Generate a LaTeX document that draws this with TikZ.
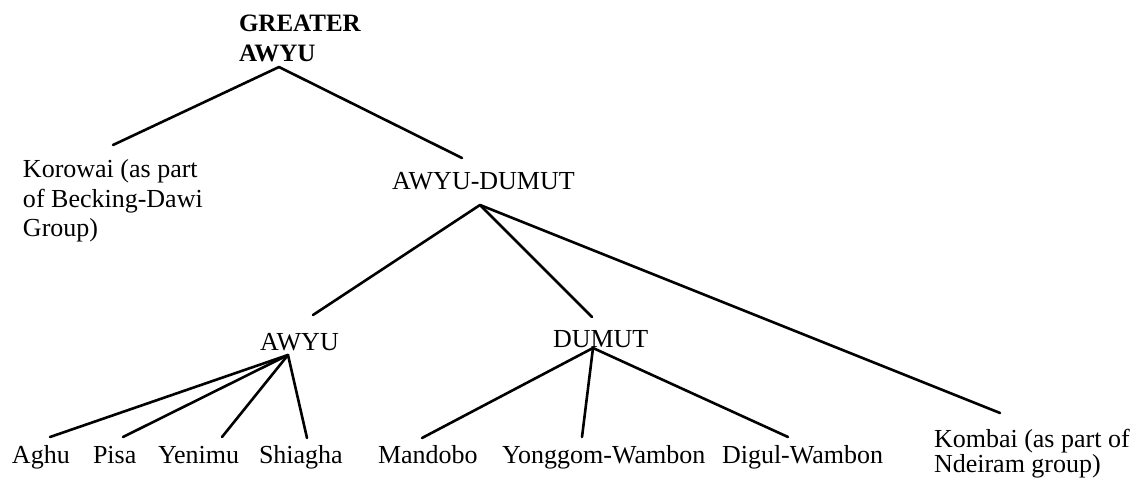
\documentclass[tikz,border=0pt]{standalone}
\usepackage{fontspec}
\setmainfont{Liberation Serif}
\usetikzlibrary{calc}
\newcommand{\mystack}[1]{\begin{tabular}[t]{@{}l@{}}#1\end{tabular}}
\tikzset{
  lbl/.style={anchor=base west, inner sep=0pt, outer sep=0pt, font=\fontsize{26}{29.5}\selectfont},
  edge/.style={line width=2.6pt, line cap=round}
}
\begin{document}
\begin{tikzpicture}[x=1pt, y=-1pt]
\useasboundingbox (0,0) rectangle (1134,478);
% nodes
\node[lbl, font=\fontsize{25}{30}\selectfont\bfseries] (ga) at (239,32) {\mystack{GREATER\\AWYU}};
\node[lbl] (kor) at (23,178) {\mystack{Korowai (as part\\of Becking-Dawi\\Group)}};
\node[lbl] (ad) at (392,190) {AWYU-DUMUT};
\node[lbl] (awyu) at (260,350) {AWYU};
\node[lbl] (dumut) at (553,347) {DUMUT};
\node[lbl] (aghu) at (12,463) {Aghu};
\node[lbl] (pisa) at (93,463) {Pisa};
\node[lbl] (yenimu) at (158,463) {Yenimu};
\node[lbl] (shiagha) at (259,463) {Shiagha};
\node[lbl] (mandobo) at (378,463) {Mandobo};
\node[lbl] (yonggom) at (502,463) {Yonggom-Wambon};
\node[lbl] (digul) at (722,463) {Digul-Wambon};
\node[lbl, font=\fontsize{26}{25}\selectfont] (kombai) at (934,447) {\mystack{Kombai (as part of\\Ndeiram group)}};
% connectors
\draw[edge] ($(ga.base west)+(40,35)$) -- ($(kor.base west)+(90,-33)$);
\draw[edge] ($(ga.base west)+(40,35)$) -- ($(ad.base west)+(70,-32)$);
\draw[edge] ($(ad.base west)+(88,15)$) -- ($(awyu.base west)+(53,-35)$);
\draw[edge] ($(ad.base west)+(88,15)$) -- ($(dumut.base west)+(39,-30)$);
\draw[edge] ($(ad.base west)+(88,15)$) -- ($(kombai.base west)+(66,-34)$);
\draw[edge] ($(awyu.base west)+(28,5)$) -- ($(aghu.base west)+(38,-26)$);
\draw[edge] ($(awyu.base west)+(28,5)$) -- ($(pisa.base west)+(30,-26)$);
\draw[edge] ($(awyu.base west)+(28,5)$) -- ($(yenimu.base west)+(64,-26)$);
\draw[edge] ($(awyu.base west)+(28,5)$) -- ($(shiagha.base west)+(48,-25)$);
\draw[edge] ($(dumut.base west)+(40,1)$) -- ($(mandobo.base west)+(44,-25)$);
\draw[edge] ($(dumut.base west)+(40,1)$) -- ($(yonggom.base west)+(80,-26)$);
\draw[edge] ($(dumut.base west)+(40,1)$) -- ($(digul.base west)+(66,-26)$);
\end{tikzpicture}
\end{document}
